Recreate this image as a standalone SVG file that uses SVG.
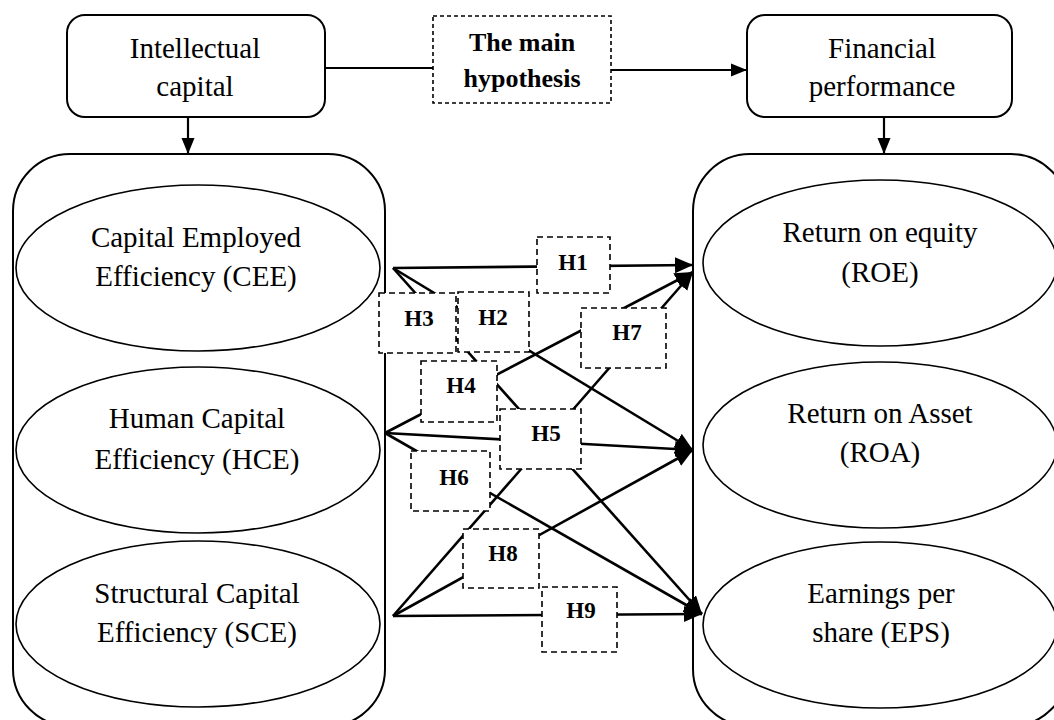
<svg xmlns="http://www.w3.org/2000/svg" width="1054" height="720" viewBox="0 0 1054 720">
<style>
.t{font-family:"Liberation Serif","Times New Roman",serif;font-size:29px;fill:#000;text-anchor:middle}
.b{font-family:"Liberation Serif","Times New Roman",serif;font-weight:bold;fill:#000;text-anchor:middle}
.h{font-size:23px}
.box{fill:#fff;stroke:#000;stroke-width:2}
.ell{fill:#fff;stroke:#000;stroke-width:1.6}
.dash{fill:#fff;stroke:#000;stroke-width:1.6;stroke-dasharray:6 4}
.c{stroke:#000;stroke-width:2.6;fill:none}
.c2{stroke:#000;stroke-width:2.2;fill:none}
</style>
<defs>
<marker id="ah" markerUnits="userSpaceOnUse" markerWidth="19" markerHeight="17" refX="18" refY="8" orient="auto">
<path d="M0,0 L18,8 L0,16 z" fill="#000"/>
</marker>
<marker id="ah2" markerUnits="userSpaceOnUse" markerWidth="17" markerHeight="15" refX="16" refY="7" orient="auto">
<path d="M0,0.5 L16,7 L0,13.5 z" fill="#000"/>
</marker>
</defs>
<rect width="1054" height="720" fill="#fff"/>

<g id="container-left"><rect class="box" x="13" y="154" width="372" height="572" rx="57"/></g>
<g id="container-right"><rect class="box" x="693" y="154" width="375" height="572" rx="57"/></g>

<g id="connectors">
<line class="c2" x1="325" y1="68" x2="433" y2="68"/>
<line class="c2" x1="611" y1="70" x2="747" y2="70" marker-end="url(#ah2)"/>
<line class="c2" x1="188" y1="117" x2="188" y2="154" marker-end="url(#ah2)"/>
<line class="c2" x1="884" y1="117" x2="884" y2="154" marker-end="url(#ah2)"/>
<line class="c" x1="393" y1="268" x2="693" y2="265" marker-end="url(#ah)"/>
<line class="c" x1="393" y1="268" x2="693" y2="450" marker-end="url(#ah)"/>
<line class="c" x1="393" y1="268" x2="702" y2="614" marker-end="url(#ah)"/>
<line class="c" x1="385" y1="433" x2="693" y2="272" marker-end="url(#ah)"/>
<line class="c" x1="385" y1="433" x2="693" y2="450" marker-end="url(#ah)"/>
<line class="c" x1="385" y1="433" x2="702" y2="614" marker-end="url(#ah)"/>
<line class="c" x1="393" y1="616" x2="693" y2="272" marker-end="url(#ah)"/>
<line class="c" x1="393" y1="616" x2="693" y2="450" marker-end="url(#ah)"/>
<line class="c" x1="393" y1="616" x2="702" y2="614" marker-end="url(#ah)"/>
</g>

<g id="intellectual-capital"><rect class="box" x="67" y="15" width="258" height="102" rx="18"/>
<text class="t" x="195" y="58">Intellectual</text><text class="t" x="195" y="96">capital</text></g>
<g id="main-hypothesis"><rect class="dash" x="433" y="16" width="178" height="87" style="stroke-dasharray:4 3"/>
<text class="b" style="font-size:26px" x="522" y="51">The main</text><text class="b" style="font-size:26px" x="522" y="87">hypothesis</text></g>
<g id="financial-performance"><rect class="box" x="747" y="15" width="265" height="102" rx="18"/>
<text class="t" x="882" y="58">Financial</text><text class="t" x="882" y="96">performance</text></g>

<g id="cee"><ellipse class="ell" cx="198" cy="268" rx="182" ry="83"/>
<text class="t" x="196" y="247">Capital Employed</text><text class="t" x="196" y="286">Efficiency (CEE)</text></g>
<g id="hce"><ellipse class="ell" cx="198" cy="450" rx="182" ry="83"/>
<text class="t" x="197" y="428">Human Capital</text><text class="t" x="197" y="469">Efficiency (HCE)</text></g>
<g id="sce"><ellipse class="ell" cx="198" cy="624" rx="182" ry="83"/>
<text class="t" x="197" y="603">Structural Capital</text><text class="t" x="197" y="642">Efficiency (SCE)</text></g>

<g id="roe"><ellipse class="ell" cx="880" cy="263" rx="177" ry="83"/>
<text class="t" x="880" y="242">Return on equity</text><text class="t" x="880" y="282">(ROE)</text></g>
<g id="roa"><ellipse class="ell" cx="880" cy="445" rx="177" ry="83"/>
<text class="t" x="880" y="423">Return on Asset</text><text class="t" x="880" y="462">(ROA)</text></g>
<g id="eps"><ellipse class="ell" cx="880" cy="625" rx="177" ry="83"/>
<text class="t" x="881" y="603">Earnings per</text><text class="t" x="881" y="642">share (EPS)</text></g>

<g id="h1"><rect class="dash" x="537" y="237" width="73" height="56"/><text class="b h" x="573" y="270">H1</text></g>
<g id="h3"><rect class="dash" x="379" y="293" width="77" height="60"/><text class="b h" x="419" y="326">H3</text></g>
<g id="h2"><rect class="dash" x="458" y="292" width="71" height="60"/><text class="b h" x="493" y="325">H2</text></g>
<g id="h7"><rect class="dash" x="581" y="308" width="85" height="60"/><text class="b h" x="627" y="340">H7</text></g>
<g id="h4"><rect class="dash" x="421" y="361" width="76" height="61"/><text class="b h" x="461" y="393">H4</text></g>
<g id="h5"><rect class="dash" x="500" y="409" width="81" height="60"/><text class="b h" x="546" y="441">H5</text></g>
<g id="h6"><rect class="dash" x="411" y="451" width="79" height="60"/><text class="b h" x="454" y="485">H6</text></g>
<g id="h8"><rect class="dash" x="463" y="529" width="76" height="59"/><text class="b h" x="503" y="561">H8</text></g>
<g id="h9"><rect class="dash" x="542" y="587" width="75" height="65"/><text class="b h" x="581" y="618">H9</text></g>
</svg>
